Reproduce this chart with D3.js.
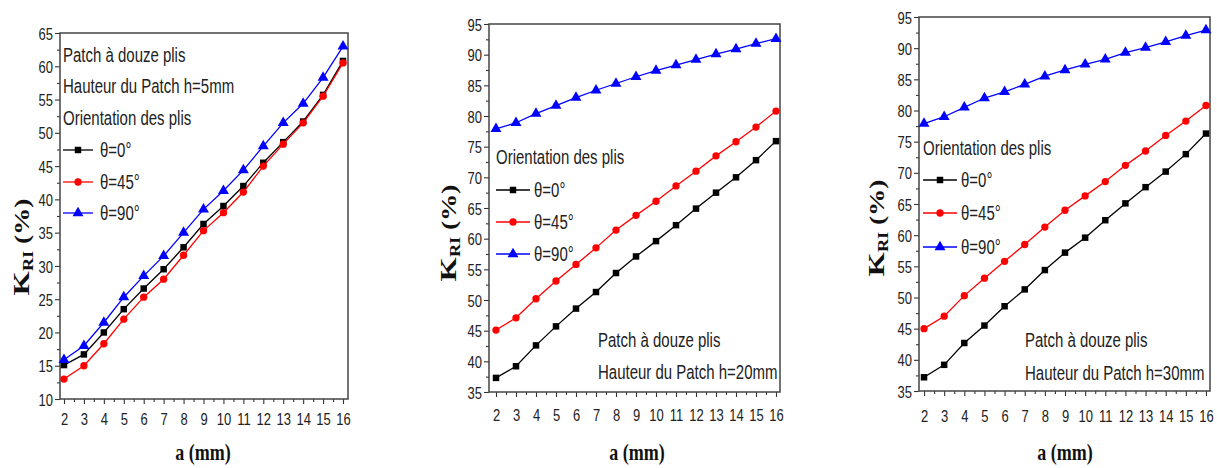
<!DOCTYPE html>
<html>
<head>
<meta charset="utf-8">
<script src="https://cdn.jsdelivr.net/npm/d3@7"></script>
<style>
  body { margin: 0; background: #fff; }
  svg { display: block; }
</style>
</head>
<body>
<svg id="chart" width="1217" height="468"></svg>
<script>
// values
var aValues = [2, 3, 4, 5, 6, 7, 8, 9, 10, 11, 12, 13, 14, 15, 16];

var kriH5Theta0  = [15.1, 16.7, 20.0, 23.5, 26.6, 29.5, 32.8, 36.3, 39.0, 42.0, 45.5, 48.6, 51.7, 55.7, 60.8];
var kriH5Theta45 = [13.0, 15.0, 18.3, 22.0, 25.3, 28.0, 31.6, 35.3, 38.0, 41.1, 45.0, 48.3, 51.5, 55.5, 60.5];
var kriH5Theta90 = [15.9, 18.0, 21.5, 25.3, 28.5, 31.5, 35.0, 38.5, 41.3, 44.4, 48.0, 51.5, 54.4, 58.3, 63.0];

var kriH20Theta0  = [37.3, 39.2, 42.6, 45.7, 48.6, 51.3, 54.4, 57.1, 59.6, 62.2, 64.9, 67.5, 70.0, 72.8, 75.9];
var kriH20Theta45 = [45.1, 47.1, 50.2, 53.1, 55.8, 58.5, 61.4, 63.8, 66.1, 68.6, 71.0, 73.5, 75.8, 78.2, 80.8];
var kriH20Theta90 = [77.9, 78.9, 80.4, 81.7, 83.0, 84.2, 85.3, 86.4, 87.4, 88.3, 89.2, 90.1, 90.9, 91.8, 92.6];

var kriH30Theta0  = [37.2, 39.2, 42.7, 45.5, 48.6, 51.3, 54.4, 57.2, 59.6, 62.4, 65.1, 67.7, 70.2, 73.0, 76.3];
var kriH30Theta45 = [45.0, 47.0, 50.3, 53.1, 55.8, 58.5, 61.3, 64.0, 66.3, 68.6, 71.2, 73.5, 76.0, 78.3, 80.8];
var kriH30Theta90 = [77.9, 79.0, 80.5, 82.0, 83.0, 84.2, 85.5, 86.5, 87.4, 88.2, 89.3, 90.1, 91.0, 92.0, 92.9];

var thetaLabels = ["θ=0°", "θ=45°", "θ=90°"];
var yTicksH5 = [10, 15, 20, 25, 30, 35, 40, 45, 50, 55, 60, 65];
var yTicksH20 = [35, 40, 45, 50, 55, 60, 65, 70, 75, 80, 85, 90, 95];

var colors = ["#000000", "#ff0000", "#0000ff"];
var symbols = [d3.symbolSquare, d3.symbolCircle, d3.symbolTriangle];
var symSizes = [42, 42, 52];

var panels = [
  { left: 60, right: 348, top: 33, bottom: 399, xDom: [1.8, 16.25], yDom: [10, 65], yTicks: yTicksH5,
    series: [kriH5Theta0, kriH5Theta45, kriH5Theta90],
    notes: [["Patch à douze plis", 63, 55], ["Hauteur du Patch h=5mm", 63, 86], ["Orientation des plis", 63, 118]],
    leg: { x: 63, ys: [150, 182, 213], len: 30, tx: 37 },
    yt: [29, 247], xt: [203, 460], xOff: 20 },
  { left: 489, right: 780, top: 24, bottom: 392, xDom: [1.65, 16.2], yDom: [35, 95], yTicks: yTicksH20,
    series: [kriH20Theta0, kriH20Theta45, kriH20Theta90],
    notes: [["Orientation des plis", 496, 157], ["Patch à douze plis", 598, 340], ["Hauteur du Patch h=20mm", 598, 372]],
    leg: { x: 496, ys: [190, 222, 254], len: 34, tx: 38 },
    yt: [456, 233], xt: [637, 460], xOff: 23 },
  { left: 919, right: 1210, top: 17, bottom: 391, xDom: [1.75, 16.2], yDom: [35, 95], yTicks: yTicksH20,
    series: [kriH30Theta0, kriH30Theta45, kriH30Theta90],
    notes: [["Orientation des plis", 923, 148], ["Patch à douze plis", 1025, 340], ["Hauteur du Patch h=30mm", 1025, 373]],
    leg: { x: 923, ys: [180, 213, 247], len: 34, tx: 38 },
    yt: [884, 228], xt: [1065, 460], xOff: 25 }
];

var svg = d3.select("#chart");
var sans = "'Liberation Sans', Arial, sans-serif";
var serif = "'Liberation Serif', 'Times New Roman', serif";

panels.forEach(function (p) {
  var x = d3.scaleLinear().domain(p.xDom).range([p.left, p.right]);
  var y = d3.scaleLinear().domain(p.yDom).range([p.bottom, p.top]);
  var g = svg.append("g");

  // minor ticks
  var xMinor = aValues.slice(0, -1).map(function (d) { return d + 0.5; });
  var yMinor = p.yTicks.slice(0, -1).map(function (d) { return d + 2.5; });

  g.append("g").attr("transform", "translate(0," + p.bottom + ")")
    .call(d3.axisBottom(x).tickValues(xMinor).tickSize(3).tickFormat(""));
  g.append("g").attr("transform", "translate(" + p.left + ",0)")
    .call(d3.axisLeft(y).tickValues(yMinor).tickSize(3).tickFormat(""));

  var xAx = g.append("g").attr("transform", "translate(0," + p.bottom + ")")
    .call(d3.axisBottom(x).tickValues(aValues).tickSize(5).tickFormat(d3.format("d")));
  var yAx = g.append("g").attr("transform", "translate(" + p.left + ",0)")
    .call(d3.axisLeft(y).tickValues(p.yTicks).tickSize(5).tickFormat(d3.format("d")));

  g.selectAll(".domain").remove();
  g.selectAll(".tick line").attr("stroke", "#333").attr("stroke-width", 1.1);

  xAx.selectAll("text")
    .attr("y", null).attr("dy", null)
    .attr("dominant-baseline", "central")
    .attr("transform", "translate(0," + p.xOff + ") scale(1,1.3)")
    .style("font-family", sans).style("font-size", "13px").attr("fill", "#222");
  yAx.selectAll("text")
    .attr("x", null).attr("dy", null)
    .attr("dominant-baseline", "central")
    .attr("transform", "translate(-7,0) scale(1,1.3)")
    .style("font-family", sans).style("font-size", "13px").attr("fill", "#222");

  // frame
  g.append("rect")
    .attr("x", p.left).attr("y", p.top)
    .attr("width", p.right - p.left).attr("height", p.bottom - p.top)
    .attr("fill", "none").attr("stroke", "#444").attr("stroke-width", 1.5);

  // series
  var line = d3.line()
    .x(function (d, i) { return x(aValues[i]); })
    .y(function (d) { return y(d); });

  [0, 2, 1].forEach(function (k) {
    var vals = p.series[k];
    g.append("path").datum(vals)
      .attr("d", line).attr("fill", "none")
      .attr("stroke", colors[k]).attr("stroke-width", 1.3);
    g.selectAll(null).data(vals).enter().append("path")
      .attr("transform", function (d, i) { return "translate(" + x(aValues[i]) + "," + y(d) + ")"; })
      .attr("d", d3.symbol().type(symbols[k]).size(symSizes[k]))
      .attr("fill", colors[k]);
  });

  // notes
  p.notes.forEach(function (n) {
    g.append("text")
      .attr("transform", "translate(" + n[1] + "," + n[2] + ") scale(1,1.35)")
      .attr("dominant-baseline", "central")
      .style("font-family", sans).style("font-size", "15px").attr("fill", "#222")
      .text(n[0]);
  });

  // legend
  thetaLabels.forEach(function (lab, k) {
    var ly = p.leg.ys[k];
    g.append("line")
      .attr("x1", p.leg.x).attr("x2", p.leg.x + p.leg.len)
      .attr("y1", ly).attr("y2", ly)
      .attr("stroke", colors[k]).attr("stroke-width", 1.3);
    g.append("path")
      .attr("transform", "translate(" + (p.leg.x + p.leg.len / 2) + "," + ly + ")")
      .attr("d", d3.symbol().type(symbols[k]).size(symSizes[k]))
      .attr("fill", colors[k]);
    g.append("text")
      .attr("transform", "translate(" + (p.leg.x + p.leg.tx) + "," + ly + ") scale(1,1.35)")
      .attr("dominant-baseline", "central")
      .style("font-family", sans).style("font-size", "15px").attr("fill", "#222")
      .text(lab);
  });

  // axis titles
  var yt = g.append("text")
    .attr("transform", "translate(" + p.yt[0] + "," + p.yt[1] + ") rotate(-90) scale(1.3,1)")
    .attr("text-anchor", "middle")
    .style("font-family", serif).style("font-weight", "bold").style("font-size", "24px")
    .attr("fill", "#111");
  yt.append("tspan").text("K");
  yt.append("tspan").attr("dy", 4).style("font-size", "14px").text("RI");
  yt.append("tspan").attr("dy", -4).style("font-size", "21px").text(" (%)");

  g.append("text")
    .attr("transform", "translate(" + p.xt[0] + "," + p.xt[1] + ") scale(1,1.3)")
    .attr("text-anchor", "middle")
    .style("font-family", serif).style("font-weight", "bold").style("font-size", "18px")
    .attr("fill", "#111")
    .text("a (mm)");
});
</script>
</body>
</html>
